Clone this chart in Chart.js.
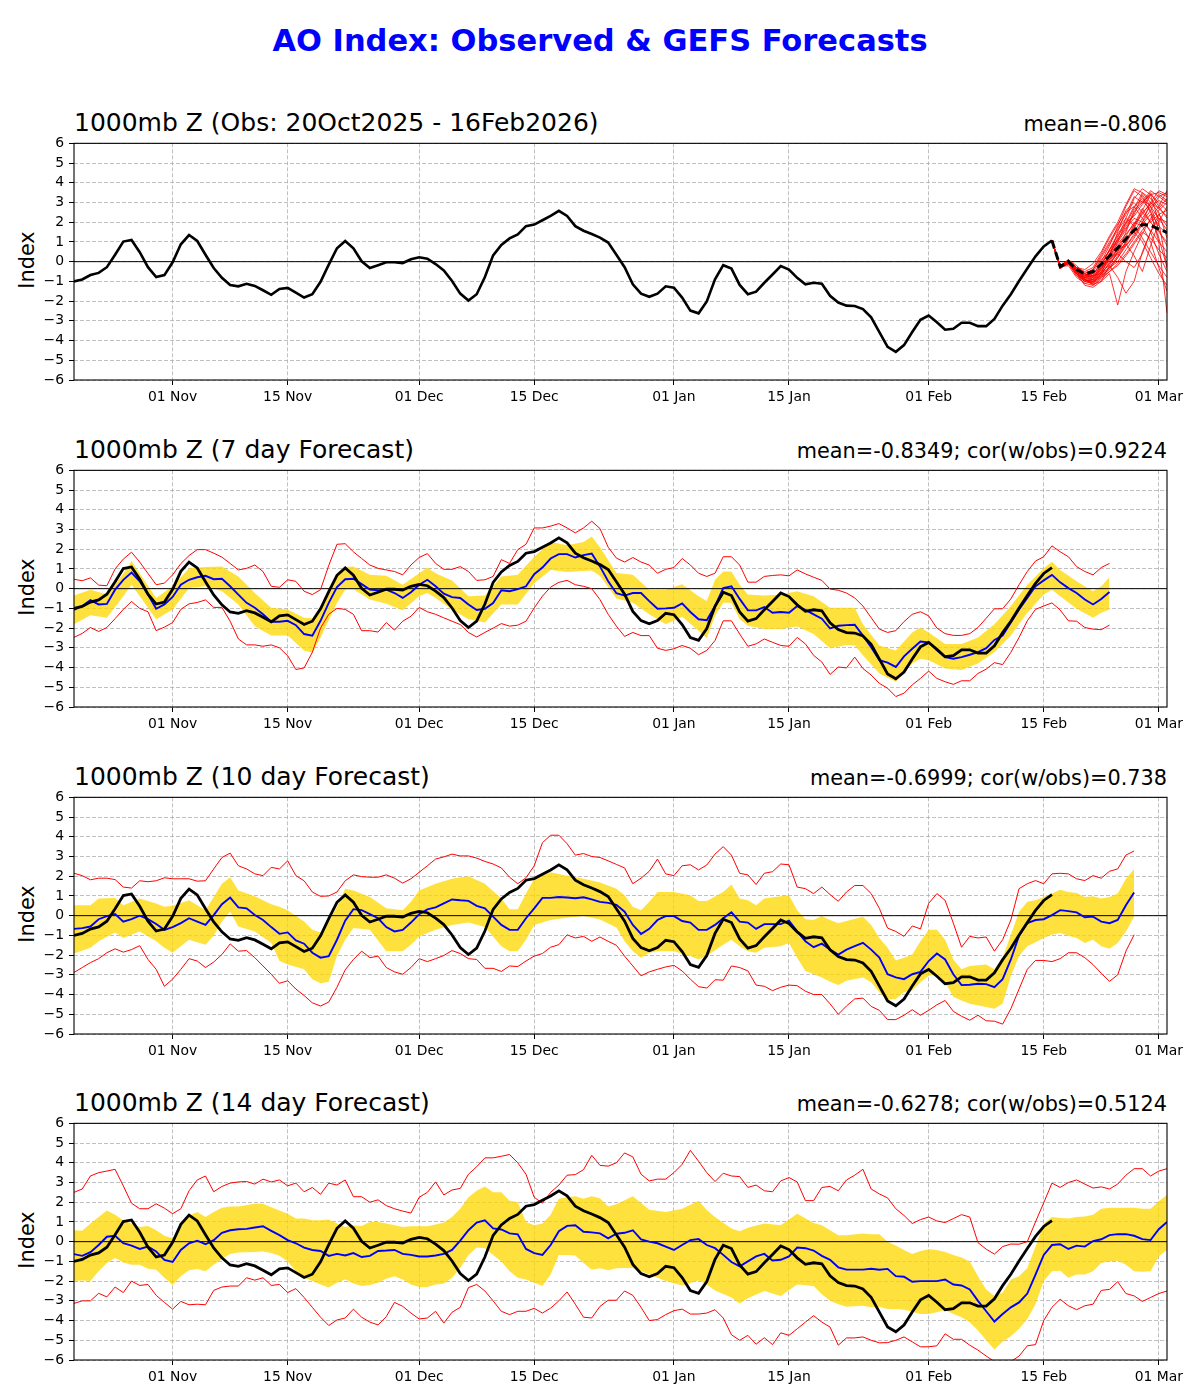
<!DOCTYPE html>
<html><head><meta charset="utf-8">
<script src="https://cdn.jsdelivr.net/npm/chart.js@4.4.1/dist/chart.umd.min.js"></script>
<style>
html,body{margin:0;padding:0;background:#fff}
body{width:1200px;height:1400px;position:relative;overflow:hidden;font-family:'DejaVu Sans',sans-serif}
.t{position:absolute;white-space:nowrap;color:#000}
canvas{position:absolute;left:0}
</style></head><body>
<script>
// ---------------- DATA ----------------
// x = days since 20 Oct 2025
const xTickDays   = [12, 26, 42, 56, 73, 87, 104, 118, 132];
const xTickLabels = ['01 Nov','15 Nov','01 Dec','15 Dec','01 Jan','15 Jan','01 Feb','15 Feb','01 Mar'];
const yTickValues = [-6,-5,-4,-3,-2,-1,0,1,2,3,4,5,6];

const panelTitles = ['1000mb Z (Obs: 20Oct2025 - 16Feb2026)','1000mb Z (7 day Forecast)','1000mb Z (10 day Forecast)','1000mb Z (14 day Forecast)'];
const panelStats  = ['mean=-0.806','mean=-0.8349; cor(w/obs)=0.9224','mean=-0.6999; cor(w/obs)=0.738','mean=-0.6278; cor(w/obs)=0.5124'];

// observed AO, day 0..119
const obs = [
-1.0,-0.9,-0.68,-0.57,-0.28,0.35,1.02,1.1,0.48,-0.28,
-0.78,-0.68,-0.03,0.88,1.35,1.05,0.35,-0.32,-0.82,-1.18,
-1.25,-1.12,-1.23,-1.45,-1.68,-1.38,-1.33,-1.57,-1.82,-1.65,
-1.02,-0.15,0.68,1.05,0.68,0.02,-0.32,-0.18,-0.03,-0.03,
-0.07,0.12,0.22,0.15,-0.12,-0.45,-0.98,-1.62,-1.97,-1.65,
-0.78,0.32,0.85,1.18,1.38,1.8,1.88,2.1,2.32,2.58,
2.32,1.8,1.57,1.4,1.22,0.97,0.35,-0.28,-1.15,-1.62,
-1.78,-1.62,-1.25,-1.32,-1.82,-2.48,-2.62,-2.02,-0.9,-0.18,
-0.35,-1.18,-1.65,-1.52,-1.07,-0.65,-0.22,-0.4,-0.82,-1.15,
-1.07,-1.12,-1.73,-2.07,-2.23,-2.25,-2.4,-2.82,-3.57,-4.32,
-4.57,-4.23,-3.57,-2.95,-2.73,-3.07,-3.45,-3.4,-3.1,-3.1,
-3.27,-3.27,-2.9,-2.23,-1.65,-0.98,-0.35,0.27,0.77,1.07];

// GEFS ensemble from day 119 (16 Feb) to day 133
const ensStartDay = 119;
const ensMean = [1.07,-0.25,0.0,-0.4,-0.62,-0.5,-0.12,0.3,0.7,1.15,1.6,1.88,1.85,1.65,1.48];
const ensMembers = [
[1.07,-0.3,0.1,-0.4,-0.9,-1.1,-0.6,0.3,1.2,2.2,3.2,3.7,3.4,3.0,2.6],
[1.07,-0.2,-0.1,-0.6,-1.2,-1.3,-1.0,-0.2,0.5,1.5,2.5,3.0,3.6,3.3,3.5],
[1.07,-0.3,0.0,-0.5,-0.8,-0.7,0.0,0.8,1.8,2.8,3.6,3.3,2.5,1.8,1.4],
[1.07,-0.25,-0.1,-0.7,-1.0,-0.9,-0.5,-0.2,-0.8,-1.6,-1.0,0.5,1.5,2.2,2.0],
[1.07,-0.3,0.05,-0.3,-0.5,-0.3,0.4,1.2,1.9,2.5,2.8,2.2,1.5,0.4,-0.5],
[1.07,-0.2,0.0,-0.6,-0.9,-1.2,-0.8,-0.3,0.3,1.0,1.8,2.6,3.4,3.5,3.3],
[1.07,-0.35,-0.1,-0.5,-0.7,-0.6,-0.3,0.2,0.8,1.3,2.0,1.8,1.0,-0.3,-1.5],
[1.07,-0.3,0.1,-0.2,-0.6,-0.8,-0.2,0.6,1.4,2.0,2.3,2.9,3.5,2.8,2.2],
[1.07,-0.25,-0.2,-0.8,-1.1,-1.0,-0.6,-0.3,0.0,0.6,1.2,1.9,2.4,1.2,-0.3],
[1.07,-0.3,0.0,-0.4,-0.7,-0.5,0.1,0.5,1.0,1.6,2.6,3.1,2.6,1.0,-2.6],
[1.07,-0.2,0.1,-0.5,-0.9,-1.0,-0.7,0.0,0.6,0.9,0.3,-0.5,0.8,2.0,2.8],
[1.07,-0.3,-0.05,-0.6,-1.0,-0.8,-0.4,0.3,1.5,2.6,3.0,2.5,2.0,2.4,1.8],
[1.07,-0.3,0.0,-0.3,-0.6,-0.9,-0.5,0.1,0.7,1.1,1.5,2.2,2.8,3.1,2.9],
[1.07,-0.25,0.05,-0.5,-0.8,-0.7,-0.6,-0.1,0.4,1.0,1.9,2.7,2.0,1.5,1.0],
[1.07,-0.3,-0.1,-0.7,-1.1,-1.2,-0.9,-0.5,-0.1,0.4,1.0,1.6,2.1,2.6,3.0],
[1.07,-0.2,0.0,-0.4,-0.6,-0.4,0.2,0.9,1.6,2.2,1.8,1.2,0.5,-0.2,-0.8],
[1.07,-0.3,0.05,-0.6,-0.9,-1.0,-0.7,-0.4,0.2,0.8,1.4,2.0,3.0,3.6,3.4],
[1.07,-0.3,-0.1,-0.5,-0.8,-0.9,-0.3,0.4,1.1,1.8,2.4,3.4,2.8,2.2,1.6],
[1.07,-0.25,0.0,-0.6,-1.0,-1.1,-0.8,-0.5,-0.2,0.3,0.9,1.5,1.2,0.6,0.2],
[1.07,-0.3,0.1,-0.4,-0.8,-0.6,-0.1,0.6,1.3,1.9,2.7,3.5,3.2,2.7,2.3],
[1.07,-0.3,0.0,-0.3,-0.4,-0.1,0.5,1.3,2.0,2.9,3.7,3.5,3.0,2.7,3.2],
[1.07,-0.25,0.05,-0.5,-0.9,-1.15,-1.0,-0.6,-2.2,-0.5,0.5,1.4,2.2,2.8,3.6],
[1.07,-0.3,-0.05,-0.45,-0.75,-0.6,-0.2,0.6,1.1,1.7,2.2,2.0,2.6,3.3,3.0],
[1.07,-0.2,0.05,-0.5,-0.8,-0.95,-0.6,-0.1,0.5,1.2,1.5,1.0,0.2,-0.6,-1.2],
[1.07,-0.3,0.0,-0.35,-0.65,-0.7,-0.3,0.3,0.9,1.4,1.9,2.4,3.0,2.5,1.2],
[1.07,-0.35,-0.05,-0.55,-1.0,-0.9,-0.5,0.1,0.6,0.8,1.3,2.0,1.6,1.0,0.5],
[1.07,-0.25,0.1,-0.3,-0.6,-0.4,0.3,1.0,1.7,2.4,3.3,3.0,3.4,2.0,-0.3],
[1.07,-0.3,0.0,-0.6,-0.95,-1.05,-0.75,-0.3,0.2,0.9,1.7,2.5,2.9,3.4,3.1],
[1.07,-0.2,0.0,-0.4,-0.7,-0.8,-0.4,0.2,0.4,0.0,-0.3,0.4,1.5,2.4,2.6],
[1.07,-0.3,0.05,-0.5,-0.85,-0.75,-0.35,0.2,1.0,2.0,2.8,3.2,2.8,1.6,0.8]];

// 7 day forecast, day 0..126
const f7Mean = [
-1.08,-0.88,-0.58,-0.8,-0.77,-0.05,0.45,0.82,0.37,-0.3,
-1.02,-0.8,-0.42,0.2,0.45,0.58,0.65,0.48,0.5,0.12,
-0.3,-0.72,-0.97,-1.3,-1.68,-1.68,-1.63,-1.85,-2.3,-2.38,
-1.63,-0.72,0.08,0.48,0.5,0.23,-0.05,-0.08,-0.05,-0.22,
-0.47,-0.18,0.2,0.45,0.12,-0.25,-0.43,-0.47,-0.8,-1.08,
-1.02,-0.73,-0.08,-0.13,-0.02,0.12,0.73,1.07,1.53,1.75,
1.75,1.58,1.7,1.78,1.13,0.38,-0.23,-0.35,-0.22,-0.22,
-0.63,-1.02,-1.0,-0.97,-0.75,-1.18,-1.55,-1.6,-0.88,0.03,
0.12,-0.52,-1.1,-1.1,-0.93,-1.22,-1.18,-1.22,-0.88,-1.08,
-1.3,-1.52,-2.02,-1.88,-1.85,-1.83,-2.38,-2.97,-3.63,-3.75,
-3.97,-3.43,-3.05,-2.68,-2.72,-3.13,-3.47,-3.55,-3.47,-3.35,
-3.22,-3.02,-2.6,-2.38,-1.72,-1.05,-0.47,0.12,0.42,0.7,
0.32,0.03,-0.22,-0.55,-0.8,-0.52,-0.17];
const f7Hi = [
0.48,0.4,0.55,0.18,0.15,1.0,1.5,1.85,1.35,0.77,
0.2,0.28,0.7,1.27,1.68,1.98,1.98,1.8,1.6,1.28,
0.95,1.03,1.2,0.87,0.12,0.07,0.45,0.37,-0.13,-0.3,
-0.05,1.18,2.25,2.28,1.87,1.53,1.2,1.03,0.95,0.87,
0.7,1.2,1.58,1.78,1.28,0.98,0.98,1.12,0.87,0.42,
0.45,0.62,1.47,1.28,1.98,2.25,3.08,3.08,3.17,3.3,
3.08,2.83,3.08,3.42,3.05,2.1,1.55,1.35,1.58,1.35,
1.2,0.78,0.98,1.07,1.53,1.2,0.78,0.62,0.78,1.62,
1.62,1.2,0.33,0.33,0.62,0.67,0.7,0.65,0.95,0.75,
0.58,0.42,-0.02,-0.08,-0.22,-0.47,-0.88,-1.47,-2.05,-2.22,
-2.13,-1.67,-1.3,-1.17,-1.38,-2.0,-2.28,-2.37,-2.37,-2.28,
-1.97,-1.5,-1.02,-1.02,-0.52,0.2,0.87,1.4,1.62,2.17,
1.87,1.62,1.12,0.87,0.7,1.07,1.28];
const f7Lo = [
-2.47,-2.27,-1.97,-2.17,-1.97,-1.52,-1.05,-0.65,-1.0,-1.17,
-2.13,-1.95,-1.72,-1.05,-0.77,-0.7,-0.57,-0.95,-0.95,-1.65,
-2.55,-2.85,-2.85,-2.92,-2.85,-3.0,-3.4,-4.1,-4.02,-3.23,
-2.0,-1.3,-1.0,-1.05,-1.3,-2.13,-2.13,-2.2,-1.72,-2.1,
-1.65,-1.4,-0.95,-1.17,-1.3,-1.48,-1.65,-1.82,-2.22,-2.45,
-2.22,-2.0,-1.77,-1.9,-1.85,-1.65,-0.98,-0.38,0.08,0.32,
0.42,0.2,0.12,0.0,-0.55,-1.3,-1.9,-2.42,-2.22,-2.38,
-2.38,-3.02,-3.13,-3.05,-2.88,-3.02,-3.35,-3.13,-2.63,-1.63,
-1.63,-2.3,-2.92,-2.8,-2.55,-2.72,-2.88,-2.92,-2.47,-2.8,
-3.38,-3.72,-4.35,-3.97,-4.02,-3.47,-4.05,-4.38,-4.8,-5.05,
-5.47,-5.3,-4.88,-4.55,-4.18,-4.55,-4.72,-4.85,-4.67,-4.67,
-4.3,-4.08,-3.75,-3.85,-3.23,-2.47,-1.63,-1.05,-0.88,-0.72,
-1.08,-1.63,-1.65,-1.97,-2.05,-2.08,-1.85];
// [day, band top, band bottom]
const f7Band = [
[0,-0.35,-1.8],[2,-0.05,-1.35],[4,-0.3,-1.48],[6,0.77,-0.38],[7,1.4,0.2],[8,0.77,-0.38],[10,-0.47,-1.55],[12,0.12,-1.05],
[14,1.03,0.03],[16,1.1,0.12],[18,1.12,-0.13],[20,0.62,-0.8],[22,-0.22,-1.9],[24,-0.97,-2.38],[26,-1.05,-2.38],[28,-1.47,-3.13],
[29,-1.5,-3.25],[30,-0.88,-2.47],[32,0.62,-0.72],[33,1.1,-0.05],[34,1.12,-0.03],[36,0.7,-0.55],[38,0.65,-0.77],[40,0.2,-1.1],
[42,0.78,-0.38],[43,1.07,-0.22],[44,0.78,-0.47],[46,0.42,-1.05],[48,-0.38,-1.55],[50,-0.35,-1.72],[52,0.62,-0.8],[54,0.7,-0.8],
[56,1.62,0.28],[58,2.37,0.95],[60,2.2,0.85],[62,2.37,0.9],[63,2.65,0.92],[64,2.1,0.65],[66,0.8,-0.5],[68,0.7,-0.72],
[70,-0.05,-1.3],[72,-0.05,-1.8],[74,0.23,-1.42],[76,-0.38,-2.13],[77,-0.63,-2.52],[78,0.45,-1.38],[79,0.87,-0.72],[80,0.87,-0.72],
[81,0.2,-1.55],[82,-0.3,-1.88],[84,-0.35,-2.05],[86,-0.3,-2.05],[88,-0.13,-1.92],[90,-0.38,-2.3],[92,-0.97,-3.02],[94,-0.97,-2.85],
[95,-0.97,-2.88],[96,-1.8,-3.38],[98,-2.88,-4.3],[100,-3.13,-4.72],[102,-2.22,-3.8],[103,-1.97,-3.55],[104,-2.22,-3.63],[106,-2.8,-4.05],
[108,-2.8,-4.13],[110,-2.47,-3.8],[112,-1.8,-3.22],[114,-0.88,-2.38],[116,0.2,-1.22],[118,1.03,-0.3],[119,1.37,-0.05],[120,0.95,-0.38],
[122,0.37,-1.02],[124,-0.13,-1.47],[125,0.12,-1.22],[126,0.58,-1.05]];

// 10 day forecast, day 0..129
const f10Mean = [
-0.67,-0.63,-0.55,-0.18,-0.02,0.08,-0.3,-0.18,0.0,-0.18,
-0.42,-0.72,-0.58,-0.38,-0.13,-0.3,-0.47,0.03,0.58,0.92,
0.42,0.37,0.03,-0.22,-0.58,-0.92,-0.85,-1.25,-1.42,-1.88,
-2.13,-2.05,-1.22,-0.25,0.33,0.28,0.08,-0.13,-0.58,-0.8,
-0.72,-0.35,0.07,0.32,0.42,0.62,0.82,0.78,0.75,0.5,
0.37,-0.05,-0.47,-0.72,-0.72,-0.13,0.37,0.9,0.9,0.95,
0.92,0.88,0.93,0.83,0.7,0.65,0.55,0.2,-0.47,-0.93,
-0.67,-0.22,-0.02,-0.02,-0.27,-0.35,-0.72,-0.72,-0.47,-0.13,
0.17,-0.3,-0.35,-0.67,-0.43,-0.43,-0.43,-0.25,-0.8,-1.3,
-1.6,-1.42,-1.72,-1.97,-1.72,-1.55,-1.38,-1.72,-2.13,-2.97,
-3.13,-3.22,-2.97,-2.85,-2.3,-1.92,-2.22,-2.97,-3.52,-3.5,
-3.45,-3.47,-3.63,-3.22,-2.22,-1.02,-0.38,-0.22,-0.18,0.03,
0.28,0.23,0.17,-0.08,-0.05,-0.3,-0.38,-0.22,0.53,1.17];
const f10Hi = [
2.15,2.03,1.82,1.9,1.9,1.83,1.45,1.4,1.77,1.72,
1.77,1.92,1.87,1.87,1.87,1.75,1.77,2.37,2.95,3.17,
2.53,2.37,2.12,2.03,2.45,2.37,2.78,2.03,1.77,1.2,
0.98,1.0,1.2,1.77,2.07,1.98,1.95,1.95,2.07,1.9,
1.65,1.87,2.2,2.53,2.87,2.98,3.12,3.03,3.03,2.92,
2.75,2.62,2.42,1.95,1.62,1.92,2.53,3.7,4.08,4.08,
3.65,3.07,3.15,3.0,2.95,2.78,2.6,2.42,1.62,1.9,
2.25,2.87,2.12,2.03,2.53,2.58,2.32,2.57,3.12,3.5,
3.07,2.15,2.07,1.58,2.15,2.23,2.62,2.58,1.45,1.37,
1.12,1.45,1.07,0.73,1.2,1.53,1.53,1.12,0.37,-0.63,
-0.8,-1.05,-0.52,-0.67,0.62,1.12,0.78,-0.38,-1.6,-1.05,
-1.13,-1.08,-1.8,-1.22,-0.22,1.37,1.62,1.78,1.62,2.12,
2.15,2.12,1.87,1.78,2.03,1.9,2.25,2.37,3.07,3.28];
const f10Lo = [
-2.88,-2.63,-2.38,-2.18,-1.88,-1.68,-1.85,-1.72,-1.52,-2.22,
-2.72,-3.58,-3.22,-2.72,-2.18,-2.3,-2.63,-2.35,-1.97,-1.43,
-1.8,-1.77,-2.13,-2.55,-2.97,-3.43,-3.3,-3.72,-4.05,-4.42,
-4.58,-4.38,-3.63,-2.75,-2.22,-1.8,-2.13,-2.05,-2.63,-2.85,
-2.97,-2.63,-2.18,-2.33,-2.18,-2.02,-1.77,-1.92,-2.18,-2.22,
-2.67,-2.67,-2.83,-2.55,-2.58,-2.3,-2.05,-1.92,-1.6,-1.47,
-0.97,-1.13,-1.05,-1.3,-1.08,-1.3,-1.5,-2.05,-2.55,-3.05,
-2.85,-2.72,-2.6,-2.52,-2.8,-3.22,-3.6,-3.67,-3.25,-3.27,
-2.55,-2.63,-2.8,-3.52,-3.58,-3.8,-3.63,-3.52,-3.55,-3.83,
-4.0,-4.0,-4.47,-5.0,-4.58,-4.22,-4.18,-4.6,-4.8,-5.27,
-5.27,-5.05,-4.77,-5.05,-4.8,-4.52,-4.3,-4.85,-5.1,-5.3,
-5.05,-5.33,-5.35,-5.5,-4.72,-3.72,-2.72,-2.27,-2.27,-2.33,
-2.18,-1.88,-1.88,-2.13,-2.48,-2.92,-3.33,-3.0,-1.8,-0.97];
const f10Band = [
[0,0.53,-1.92],[2,0.53,-1.63],[3,0.87,-1.3],[5,0.9,-0.85],[6,0.53,-1.13],[8,0.87,-0.8],[10,0.62,-1.3],[11,0.45,-1.63],
[12,0.5,-1.88],[14,0.78,-1.22],[16,0.28,-1.47],[17,0.95,-1.02],[18,1.62,-0.3],[19,1.95,0.2],[20,1.27,-0.55],[22,0.98,-0.8],
[24,0.58,-1.38],[25,0.45,-2.3],[26,0.28,-2.47],[28,-0.3,-2.72],[29,-0.72,-3.22],[30,-0.85,-3.43],[31,-0.3,-3.35],[32,0.45,-2.05],
[33,1.37,-1.22],[34,1.28,-0.63],[36,0.95,-0.72],[38,0.37,-1.8],[40,0.28,-1.8],[41,0.7,-1.47],[42,1.28,-1.05],[44,1.62,-0.72],
[46,1.87,-0.47],[48,2.0,-0.35],[50,1.62,-0.58],[52,0.87,-1.55],[53,0.32,-1.8],[54,0.32,-1.8],[55,1.12,-1.22],[56,1.87,-0.47],
[58,2.2,-0.22],[60,2.03,-0.1],[62,1.87,-0.02],[64,1.68,-0.2],[66,1.37,-0.6],[67,1.03,-1.3],[68,0.45,-1.8],[69,0.28,-2.13],
[70,0.7,-1.88],[71,1.2,-1.8],[73,1.2,-1.8],[75,1.03,-2.05],[76,0.75,-2.22],[77,0.75,-2.05],[79,1.2,-1.47],[80,1.58,-1.22],
[81,0.87,-1.55],[82,0.78,-1.8],[83,0.53,-1.88],[84,0.87,-1.63],[86,0.98,-1.55],[87,1.03,-1.38],[88,0.28,-2.13],[89,-0.18,-2.8],
[90,-0.22,-2.97],[91,-0.02,-3.13],[92,-0.22,-3.35],[93,-0.38,-3.52],[94,-0.27,-3.3],[96,-0.05,-3.13],[97,-0.47,-3.38],[98,-1.13,-3.88],
[99,-1.63,-4.25],[100,-2.27,-4.22],[101,-2.13,-3.88],[102,-1.97,-3.8],[103,-1.3,-3.38],[104,-0.72,-3.05],[105,-0.72,-2.97],[106,-1.22,-3.38],
[107,-2.22,-4.13],[108,-2.72,-4.3],[109,-2.55,-4.47],[111,-2.47,-4.63],[112,-2.72,-4.72],[113,-2.13,-4.47],[114,-0.97,-3.05],[115,0.2,-2.05],
[116,0.7,-1.55],[117,0.78,-1.35],[118,0.95,-1.13],[119,1.12,-0.97],[120,1.32,-0.88],[121,1.2,-1.02],[122,1.15,-1.13],[123,0.95,-1.38],
[124,0.98,-1.22],[125,0.87,-1.55],[126,0.95,-1.68],[127,1.12,-1.38],[128,1.87,-0.8],[129,2.37,-0.05]];

// 14 day forecast, day 0..133
const f14Mean = [
-0.63,-0.72,-0.53,-0.17,0.25,0.3,-0.08,-0.2,-0.37,-0.25,
-0.5,-0.92,-1.03,-0.42,-0.08,0.05,-0.13,0.08,0.45,0.58,
0.63,0.65,0.72,0.78,0.55,0.33,0.08,-0.08,-0.3,-0.42,
-0.47,-0.72,-0.62,-0.7,-0.58,-0.78,-0.72,-0.47,-0.45,-0.42,
-0.62,-0.67,-0.75,-0.75,-0.7,-0.62,-0.42,0.05,0.58,0.97,
1.08,0.67,0.62,0.42,0.37,-0.37,-0.58,-0.67,-0.17,0.53,
0.8,0.83,0.5,0.47,0.42,0.17,0.4,0.45,0.58,0.12,
0.0,-0.08,-0.25,-0.42,-0.17,0.08,0.13,-0.17,-0.33,-0.67,
-1.03,-1.25,-1.0,-0.75,-0.62,-0.95,-0.92,-0.75,-0.3,-0.33,
-0.45,-0.72,-0.92,-1.3,-1.42,-1.42,-1.42,-1.37,-1.42,-1.38,
-1.75,-1.78,-2.03,-2.0,-2.0,-2.0,-1.92,-2.17,-2.22,-2.42,
-3.0,-3.53,-4.05,-3.67,-3.33,-3.08,-2.63,-1.67,-0.67,-0.17,
-0.13,-0.37,-0.2,-0.25,0.03,0.12,0.33,0.38,0.38,0.3,
0.13,0.08,0.63,1.0];
const f14Hi = [
2.5,2.67,3.33,3.5,3.58,3.67,2.83,1.95,1.67,1.67,
1.92,1.7,1.42,1.67,2.58,3.13,3.33,2.53,2.8,2.97,
3.03,3.05,2.92,3.17,3.03,3.13,2.83,2.97,2.53,2.75,
2.4,2.97,2.87,3.13,2.28,2.28,2.0,2.12,1.83,1.67,
1.55,1.45,2.25,2.5,3.03,2.37,2.62,2.7,3.42,3.8,
4.25,4.25,4.33,4.42,4.0,3.42,2.25,1.95,2.5,2.87,
3.37,3.4,3.65,4.38,3.87,3.83,4.0,4.5,4.3,3.42,
3.08,3.17,3.17,3.5,3.92,4.63,4.08,3.5,3.05,3.47,
3.33,3.3,2.75,2.87,2.58,2.53,3.08,3.25,3.03,2.08,
2.08,2.75,2.8,2.58,3.13,3.37,3.67,2.67,2.42,2.22,
1.67,1.33,0.92,1.12,1.25,1.05,0.97,1.17,1.37,1.25,
-0.05,-0.38,-0.63,-0.25,-0.12,-0.13,0.0,1.0,1.97,2.97,
2.75,3.0,3.13,2.92,2.72,2.78,2.67,2.92,3.37,3.7,
3.7,3.33,3.58,3.7];
const f14Lo = [
-3.13,-3.0,-3.0,-2.62,-2.8,-2.3,-2.58,-2.0,-2.22,-2.17,
-2.72,-3.08,-3.42,-3.03,-3.2,-3.17,-3.2,-2.47,-2.3,-2.25,
-2.25,-1.83,-1.95,-1.83,-2.22,-2.17,-2.58,-2.38,-2.83,-3.33,
-3.83,-4.25,-3.97,-3.87,-3.42,-3.83,-4.08,-4.22,-3.8,-3.08,
-3.28,-3.62,-3.92,-3.87,-3.53,-4.13,-3.58,-3.33,-2.33,-2.17,
-2.5,-3.0,-3.53,-3.7,-3.53,-3.53,-3.38,-3.62,-3.37,-3.0,
-2.55,-3.17,-3.83,-3.87,-3.28,-2.97,-2.97,-2.5,-2.72,-3.33,
-4.0,-3.95,-3.7,-3.5,-3.42,-3.67,-3.67,-3.62,-3.45,-3.87,
-4.72,-5.0,-4.75,-5.2,-4.87,-5.22,-4.62,-4.75,-4.42,-4.08,
-3.75,-4.08,-4.33,-5.25,-4.88,-4.88,-4.83,-5.0,-5.13,-5.12,
-5.0,-4.83,-5.08,-5.33,-5.33,-5.28,-4.67,-4.95,-4.95,-5.25,
-5.5,-5.8,-6.08,-6.3,-6.08,-5.8,-5.28,-5.22,-4.0,-3.33,
-2.92,-3.25,-3.45,-3.25,-3.17,-2.47,-2.42,-2.03,-2.63,-2.75,
-3.03,-2.83,-2.63,-2.5];
const f14Band = [
[0,0.58,-2.0],[1,0.55,-1.97],[2,0.92,-2.0],[3,1.25,-1.5],[4,1.58,-1.08],[5,1.37,-0.83],[6,1.08,-1.05],[7,0.92,-1.17],
[8,0.75,-1.17],[9,0.8,-1.37],[10,0.58,-1.42],[11,0.3,-1.83],[12,0.17,-2.2],[13,0.83,-1.75],[14,1.33,-1.45],[15,1.5,-1.38],
[16,1.25,-1.5],[17,1.5,-1.17],[18,1.72,-0.88],[19,1.78,-0.62],[20,1.78,-0.55],[22,1.92,-0.53],[23,1.92,-0.5],[24,1.75,-0.58],
[25,1.58,-0.72],[26,1.42,-1.0],[27,1.17,-1.5],[28,1.17,-1.83],[29,1.08,-2.0],[30,1.08,-2.17],[31,1.12,-2.33],[32,0.92,-2.08],
[33,0.75,-1.92],[34,0.83,-2.12],[35,0.8,-2.25],[36,1.0,-2.2],[37,1.0,-2.08],[38,0.92,-1.88],[39,0.83,-1.75],[40,0.75,-1.92],
[41,0.78,-2.17],[42,0.78,-2.3],[43,0.78,-2.3],[44,0.87,-2.17],[45,0.97,-2.13],[46,1.25,-1.83],[47,1.67,-1.33],[48,2.25,-0.67],
[49,2.58,-0.3],[50,2.8,-0.33],[51,2.5,-0.67],[52,2.5,-1.0],[53,2.08,-1.5],[54,2.0,-1.83],[55,1.0,-1.92],[56,0.83,-2.08],
[57,0.92,-2.25],[58,1.37,-1.67],[59,2.17,-0.67],[60,2.25,-0.67],[61,2.3,-0.7],[62,2.17,-1.08],[63,2.3,-1.42],[64,2.2,-1.35],
[65,1.78,-1.45],[66,1.9,-1.35],[68,2.3,-1.33],[70,1.62,-1.67],[72,1.5,-2.0],[74,1.67,-2.22],[76,2.08,-1.97],[77,1.6,-2.17],
[78,1.25,-2.47],[80,0.67,-2.83],[81,0.53,-3.13],[82,0.7,-2.87],[84,0.92,-2.5],[86,0.83,-2.75],[88,1.42,-2.17],[90,0.95,-2.25],
[91,0.83,-2.67],[92,0.58,-3.0],[93,0.33,-3.17],[94,0.33,-3.3],[96,0.42,-3.25],[97,0.37,-3.33],[98,0.37,-3.3],[99,0.0,-3.42],
[100,-0.2,-3.42],[101,-0.42,-3.45],[102,-0.63,-3.55],[103,-0.47,-3.67],[104,-0.38,-3.67],[105,-0.42,-3.58],[106,-0.53,-3.47],[107,-0.67,-3.67],
[108,-0.8,-3.83],[109,-1.0,-4.08],[110,-1.75,-4.5],[111,-2.42,-5.0],[112,-2.75,-5.47],[113,-2.58,-5.08],[114,-1.92,-4.8],[115,-1.75,-4.42],
[116,-1.33,-3.92],[117,-0.25,-3.17],[118,0.92,-2.0],[119,1.25,-1.5],[120,1.2,-1.47],[121,1.17,-1.83],[122,1.25,-1.67],[123,1.28,-1.67],
[124,1.37,-1.5],[125,1.67,-1.08],[126,1.72,-1.0],[127,1.72,-0.97],[128,1.72,-1.17],[129,1.72,-1.5],[130,1.67,-1.53],[131,1.67,-1.5],
[132,2.05,-0.75],[133,2.37,-0.42]];

// ---------------- LAYOUT ----------------
const W = 1200, PLOT_L = 74, PLOT_R = 1167, PLOT_H = 240;
const panelTops = [140, 467, 794, 1120];
const X_MIN = 0, X_MAX = 133;

Chart.defaults.font.family = "'DejaVu Sans', sans-serif";
Chart.defaults.color = '#000';

function addText(txt, css) {
  const d = document.createElement('div');
  d.className = 't';
  d.textContent = txt;
  Object.assign(d.style, css);
  document.body.appendChild(d);
  return d;
}

addText('AO Index: Observed & GEFS Forecasts', {left:'0px', top:'20px', width:W+'px', textAlign:'center',
  fontSize:'30.5px', fontWeight:'bold', color:'#0000ff', lineHeight:'42px'});

const pts = (arr, start=0) => arr.map((v,i)=>({x:start+i, y:v}));
const BAND = 'rgba(255,215,0,0.76)';

const framePlugin = {
  id:'frame',
  afterDatasetsDraw(chart){
    const {ctx, chartArea:a} = chart;
    ctx.save();
    ctx.strokeStyle = '#000';
    ctx.lineWidth = 1.1;
    ctx.strokeRect(a.left, a.top, a.right - a.left, a.bottom - a.top);
    ctx.restore();
  }
};

function lineDs(data, color, width, order, extra={}) {
  return Object.assign({data, borderColor:color, backgroundColor:color, borderWidth:width,
    pointRadius:0, pointHoverRadius:0, tension:0, fill:false, order}, extra);
}

function bandDs(band) {
  return [
    {data: band.map(r=>({x:r[0], y:r[1]})), borderWidth:0, borderColor:'rgba(0,0,0,0)', backgroundColor:BAND,
      pointRadius:0, tension:0, fill:'+1', order:50},
    {data: band.map(r=>({x:r[0], y:r[2]})), borderWidth:0, borderColor:'rgba(0,0,0,0)', backgroundColor:BAND,
      pointRadius:0, tension:0, fill:false, order:49}
  ];
}

function zeroDs() {
  return lineDs([{x:X_MIN,y:0},{x:X_MAX,y:0}], '#000', 1, 40);
}

function makePanel(idx, datasets) {
  const T = panelTops[idx];
  addText(panelTitles[idx], {left:PLOT_L+'px', top:(T-32)+'px', fontSize:'25px', lineHeight:'30px'});
  addText(panelStats[idx], {right:(W-PLOT_R)+'px', top:(T-29)+'px', fontSize:'20.8px', lineHeight:'26px'});
  const lab = addText('Index', {left:'27px', top:(T+PLOT_H/2)+'px', fontSize:'20.8px', lineHeight:'24px'});
  lab.style.transform = 'translate(-50%,-50%) rotate(-90deg)';

  const cv = document.createElement('canvas');
  const TOPPAD = 10, XAX = 40;
  cv.width = W; cv.height = TOPPAD + PLOT_H + XAX;
  cv.style.top = (T - TOPPAD) + 'px';
  document.body.appendChild(cv);

  const gridOpts = {color:'#b0b0b0', lineWidth:0.8, drawTicks:true, tickLength:5, tickColor:'#000', tickWidth:1};
  new Chart(cv.getContext('2d'), {
    type:'line',
    data:{datasets},
    plugins:[framePlugin],
    options:{
      responsive:false, animation:false, events:[],
      layout:{padding:{left:0, right:W-PLOT_R, top:TOPPAD, bottom:0}},
      plugins:{legend:{display:false}, tooltip:{enabled:false}, title:{display:false}},
      scales:{
        x:{type:'linear', min:X_MIN, max:X_MAX,
          afterFit(s){ s.height = XAX; },
          afterBuildTicks(s){ s.ticks = xTickDays.map(v=>({value:v})); },
          ticks:{autoSkip:false, maxRotation:0, padding:4, font:{size:13.9},
            callback(v){ const k = xTickDays.indexOf(v); return k>=0 ? xTickLabels[k] : ''; }},
          grid:gridOpts,
          border:{display:false, dash:[4,2]}
        },
        y:{type:'linear', min:-6, max:6,
          afterFit(s){ s.width = PLOT_L; },
          afterBuildTicks(s){ s.ticks = yTickValues.map(v=>({value:v})); },
          ticks:{autoSkip:false, padding:5, font:{size:13.9},
            callback(v){ return v<0 ? '\u2212'+Math.abs(v) : String(v); }},
          grid:gridOpts,
          border:{display:false, dash:[4,2]}
        }
      }
    }
  });
}

// Panel 1: observations + ensemble
{
  const ds = [zeroDs()];
  ensMembers.forEach(m => ds.push(lineDs(pts(m, ensStartDay), '#ff0000', 0.8, 30)));
  ds.push(lineDs(pts(obs), '#000', 2.6, 10));
  ds.push(lineDs(pts(ensMean, ensStartDay), '#000', 3, 5, {borderDash:[8,4]}));
  makePanel(0, ds);
}
// Panels 2-4
[[f7Band, f7Hi, f7Lo, f7Mean],[f10Band, f10Hi, f10Lo, f10Mean],[f14Band, f14Hi, f14Lo, f14Mean]].forEach((p, k) => {
  const [band, hi, lo, mean] = p;
  const ds = [...bandDs(band), zeroDs(),
    lineDs(pts(hi), '#ff0000', 1, 30),
    lineDs(pts(lo), '#ff0000', 1, 30),
    lineDs(pts(mean), '#0000ff', 1.9, 20),
    lineDs(pts(obs), '#000', 2.8, 10)];
  makePanel(k+1, ds);
});
</script>
</body></html>
